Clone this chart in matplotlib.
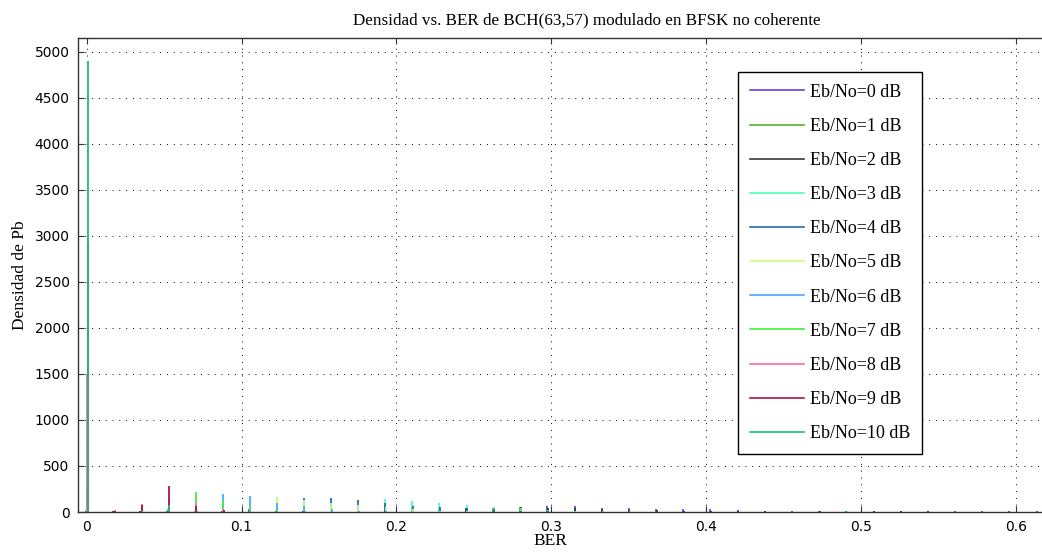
import numpy as np
import matplotlib
matplotlib.use("Agg")
import matplotlib.pyplot as plt

# Densidad de la BER por Eb/No (bins en k/57)
ebno = [0, 1, 2, 3, 4, 5, 6, 7, 8, 9, 10]
k = np.arange(36)
ber = k / 57.0

d0 = [0, 0, 0, 0, 0, 0, 0, 0, 0, 0, 0, 0, 0, 0, 2, 5, 10, 60, 60, 45, 40, 38, 35, 30,
      18, 12, 10, 8, 6, 10, 12, 8, 6, 10, 9, 12]
d1 = [0, 0, 0, 0, 0, 0, 0, 0, 0, 0, 2, 5, 10, 20, 35, 45, 50, 40, 30, 25, 20, 15, 10, 8,
      5, 4, 3, 2, 2, 3, 2, 6, 2, 1, 0, 0]
d2 = [10, 12, 8, 8, 10, 8, 5, 10, 15, 10, 20, 25, 30, 35, 40, 45, 50, 45, 40, 30, 25, 20, 15, 10,
      8, 6, 5, 8, 4, 10, 6, 8, 4, 2, 1, 0]
d3 = [0, 0, 0, 0, 0, 0, 0, 5, 20, 40, 70, 140, 120, 100, 80, 55, 40, 25, 15, 10, 6, 4, 3, 2,
      1, 1, 5, 1, 6, 0, 0, 0, 0, 0, 0, 0]
d4 = [0, 0, 0, 0, 0, 10, 30, 80, 150, 150, 130, 100, 60, 50, 45, 30, 15, 8, 4, 2, 1, 1, 0, 0,
      0, 0, 0, 0, 0, 0, 0, 0, 0, 0, 0, 0]
d5 = [0, 0, 0, 5, 20, 60, 110, 165, 130, 100, 80, 50, 30, 15, 8, 4, 2, 1, 0, 0, 0, 0, 0, 0,
      0, 0, 0, 0, 0, 0, 0, 0, 0, 0, 0, 0]
d6 = [0, 0, 5, 30, 90, 200, 170, 100, 60, 30, 15, 8, 3, 1, 0, 0, 0, 0, 0, 0, 0, 0, 0, 0,
      0, 0, 0, 0, 0, 0, 0, 0, 0, 0, 0, 0]
d7 = [300, 5, 30, 120, 215, 120, 60, 25, 10, 4, 1, 0, 0, 0, 0, 0, 0, 0, 0, 0, 0, 0, 0, 0,
      0, 0, 0, 0, 0, 0, 0, 0, 0, 0, 0, 0]
d8 = [1500, 20, 90, 150, 100, 30, 8, 2, 0, 0, 0, 0, 0, 0, 0, 0, 0, 0, 0, 0, 0, 0, 0, 0,
      0, 0, 0, 0, 0, 0, 0, 0, 0, 0, 0, 0]
d9 = [2930, 15, 80, 280, 60, 20, 5, 0, 0, 0, 0, 0, 0, 0, 0, 0, 0, 0, 0, 0, 0, 0, 0, 0,
      0, 0, 0, 0, 0, 0, 0, 0, 0, 0, 0, 0]
d10 = [4900, 5, 10, 80, 10, 2, 0, 0, 0, 0, 0, 0, 0, 0, 0, 0, 0, 0, 0, 0, 0, 0, 0, 0,
       0, 0, 0, 0, 0, 0, 0, 0, 0, 0, 0, 0]
densidades = [d0, d1, d2, d3, d4, d5, d6, d7, d8, d9, d10]

colores = ["#6a3fd0", "#5fae2a", "#3a3a3a", "#4dffb0", "#2a68b8", "#c6ff7a",
           "#4aa8ff", "#3ef03a", "#ff6aa8", "#b0124e", "#1fbf72"]

fig = plt.figure(figsize=(10.42, 5.6), dpi=100)
# el eje se sale por la derecha de la figura
ax = fig.add_axes([78 / 1042, 48 / 560, (1096 - 78) / 1042, 474 / 560])

serif = "Liberation Serif"
# barras finas, una por serie, ligeramente desplazadas dentro de cada bin
for i, (d, c) in enumerate(zip(densidades, colores)):
    off = (i - 5) * 0.00016
    d = np.array(d, dtype=float)
    m = d > 0
    ax.vlines(ber[m] + off, 0, d[m], color=c, linewidth=1.3)

ax.set_xlim(-0.0056, 0.6516)
ax.set_ylim(0, 5150)
ax.set_xticks(np.arange(0, 0.61, 0.1))
ax.set_xticklabels(["0", "0.1", "0.2", "0.3", "0.4", "0.5", "0.6"])
ax.set_yticks(np.arange(0, 5001, 500))
ax.grid(True, color="black", linestyle=(0, (1, 6)), linewidth=0.7)
ax.tick_params(direction="in", length=4, top=True, right=True, labelsize=10,
               color="#333333", pad=6)
for s in ax.spines.values():
    s.set_color("#333333")
    s.set_linewidth(1.0)

ax.set_title("Densidad vs. BER de BCH(63,57) modulado en BFSK no coherente",
             family=serif, fontsize=12.3, pad=10)
ax.set_xlabel("BER", family=serif, fontsize=12.5, labelpad=0)
ax.xaxis.set_label_coords((550 - 78) / 1018, -0.045)
ax.set_ylabel("Densidad de Pb", family=serif, fontsize=12.5, labelpad=5)

handles = [plt.Line2D([], [], color=c, linewidth=1.2) for c in colores]
ax_w = 1018
leg = ax.legend(handles, ["Eb/No=%d dB" % e for e in ebno],
                loc="upper left", bbox_to_anchor=((738 - 78) / ax_w, 1 - (72 - 38) / 474),
                prop={"family": serif, "size": 13}, frameon=True, fancybox=False,
                edgecolor="black", framealpha=1, borderpad=0.65,
                labelspacing=0.95, handlelength=3.0, handletextpad=0.33,
                borderaxespad=0)
leg.get_frame().set_linewidth(1.0)

fig.savefig("out.png", dpi=100)
